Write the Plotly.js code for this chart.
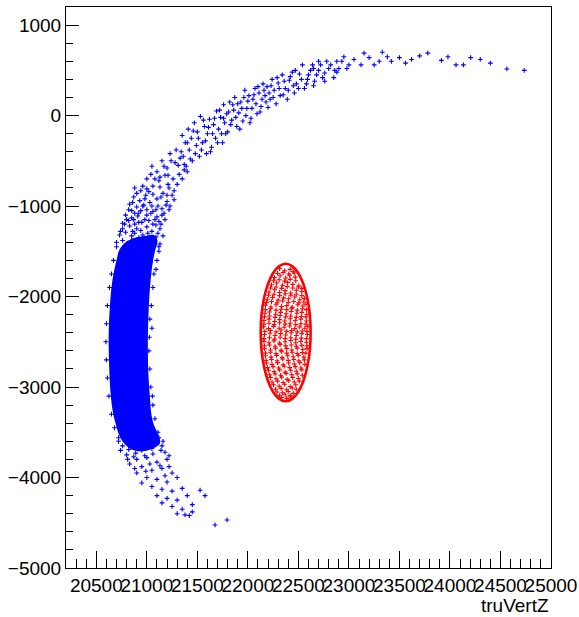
<!DOCTYPE html>
<html>
<head>
<meta charset="utf-8">
<script src="https://cdn.plot.ly/plotly-3.0.1.min.js"></script>
<style>html,body{margin:0;padding:0;background:#fff;}#chart{width:579px;height:617px;}</style>
</head>
<body>
<div id="chart"></div>
<script>
// ---- Data ----
var xTickVals = [20500, 21000, 21500, 22000, 22500, 23000, 23500, 24000, 24500, 25000];
var yTickVals = [-5000, -4000, -3000, -2000, -1000, 0, 1000];
var xAxisTitle = "truVertZ";

// dense (saturated) core of the blue band, outline points [z, y]
var blueCore = [
  [21080,-1500],[21105,-1380],[21070,-1320],[20980,-1330],[20880,-1350],[20790,-1400],[20730,-1480],
  [20700,-1600],[20670,-1750],[20650,-1900],[20635,-2100],[20625,-2300],[20622,-2550],
  [20628,-2800],[20640,-3050],[20660,-3250],[20690,-3400],[20730,-3540],[20790,-3640],[20870,-3700],
  [20960,-3710],[21060,-3680],[21130,-3620],[21110,-3520],[21070,-3420],[21045,-3300],[21030,-3100],[21015,-2850],
  [21010,-2600],[21012,-2350],[21020,-2100],[21035,-1850],[21055,-1650],[21080,-1500]
];

// blue scattered points: top tail
var blueTop = [
  [24735,500],[24563,515],[24205,640],[24133,560],[24060,560],[23915,610],[23780,690],[23620,620],
  [23500,640],[23420,600],[23330,700],[23300,600],[23200,640],[23120,560],[23050,620],[22980,520],
  [22930,600],[22880,480],[22820,560],[22760,470],[22700,600],[22650,520],
  [24400,580],[24300,620],[23980,650],[23700,660],[23560,580],[23380,650],[23250,560],[23150,690],
  [23000,560],[22950,650],[22900,520]
];
// blue: upper arc
var blueUpper = [
  [22880,600],[22850,420],[22800,520],[22760,380],[22720,560],[22680,450],[22650,330],[22620,500],
  [22590,400],[22560,300],[22540,560],[22510,460],[22480,350],[22460,250],[22440,480],[22410,390],
  [22390,180],[22370,300],[22340,450],[22320,220],[22300,360],[22280,130],[22260,280],[22240,400],
  [22220,180],[22200,90],[22190,320],[22170,220],
  [22860,500],[22780,600],[22740,420],[22700,500],[22660,380],[22640,560],[22600,450],[22580,350],
  [22530,400],[22500,300],[22470,500],[22450,330],[22420,430],[22400,280],[22360,380],[22350,230],
  [22310,300],[22290,420],[22250,200],[22230,330],[22210,250],[22180,150],
  [22150,350],[22130,100],[22110,250],[22090,20],[22070,300],[22050,180],[22030,-30],[22010,220],
  [21990,80],[21970,280],[21950,-60],[21930,150],[21910,30],[21890,-120],[21870,200],[21860,60],
  [21840,-50],[21820,150],[21800,-180],[21790,20],[21770,-80],[21760,120],
  [22160,280],[22140,180],[22120,40],[22100,320],[22080,130],[22060,230],[22040,80],[22020,-80],
  [22000,160],[21980,0],[21960,200],[21940,80],[21920,-150],[21900,130],[21880,-20],[21850,120],
  [21830,-100],[21810,40],[21780,-200],[21760,-30],
  [21750,-300],[21730,-20],[21710,-150],[21690,50],[21680,-250],[21660,-100],[21640,-350],[21620,-40],
  [21600,-200],[21590,-420],[21570,-120],[21550,-300],[21530,-10],[21520,-450],[21500,-180],[21490,-330],
  [21470,-80],[21450,-500],[21440,-250],[21420,-380],[21410,-150],[21390,-560],[21380,-300],[21360,-450],
  [21350,-220],
  [21740,-200],[21720,60],[21700,-300],[21670,-30],[21650,-200],[21630,-400],[21610,-130],[21580,-280],
  [21560,-50],[21540,-380],[21510,-250],[21480,-420],[21460,-170],[21430,-480],[21400,-300],[21370,-600],
  [21340,-400],[21310,-550],[21290,-380],[21240,-500],[21210,-660],[21170,-560],[21130,-680],[21080,-700],
  [21040,-650]
];
// blue: shoulder of the band
var blueShoulder = [
  [21330,-470],[21280,-520],[21230,-420],[21400,-620],[21200,-580],[21150,-500],[21320,-650],[21260,-700],
  [21100,-620],[21050,-560],[21370,-540],[21180,-660],[21120,-720],[21300,-760],[21220,-800],[21000,-700],
  [21060,-780],[21350,-700],[21160,-860],[21250,-880],[21020,-840],[20960,-780],[21100,-920],[21200,-950],
  [20900,-860],[20980,-920],[21050,-1000],[21150,-1030],[20860,-960],[20940,-1050],[21230,-1000],[21000,-1100],
  [21100,-1120],[20880,-1080],[20820,-1040],[21180,-1150],[20950,-1180],[21060,-1200],[20800,-1150],[21130,-1250],
  [20900,-1250],[20760,-1250],[21010,-1300],[21160,-1330],[20850,-1330],
  [20880,-800],[20940,-830],[21000,-810],[21270,-830],[21210,-760],[21130,-790],
  [20870,-900],[20930,-940],[20990,-880],[21060,-870],[21140,-900],[21200,-880],[21270,-930],
  [20830,-980],[20900,-1010],[20970,-990],[21030,-960],[21090,-1040],[21170,-1080],[21220,-1040],
  [20790,-1100],[20850,-1130],[20910,-1110],[20980,-1150],[21040,-1080],[21120,-1170],[21150,-1100],
  [20760,-1190],[20830,-1220],[20880,-1200],[20940,-1270],[21000,-1230],[21050,-1280],[21090,-1210],[21140,-1200],
  [20730,-1320],[20790,-1290],[20860,-1280],[20920,-1350],[20980,-1380],[21060,-1360],[21110,-1300],
  [20700,-1400],[20800,-1420],[21130,-1420],
  [20780,-1200],[20820,-1160],[20870,-1150],[20920,-1180],[21020,-1160],[21080,-1150],[20740,-1280],[20880,-1300],
  [20960,-1320],[21030,-1340],[21090,-1340],[20760,-1380],[20850,-1380],[20900,-1420],[21020,-1420],[21080,-1430],
  [20850,-1050],[20920,-1080],[21000,-1040],[21110,-1000],[20960,-1000],[21060,-1060],[21190,-990],[20780,-1470],
  [20830,-1480],[21060,-1480],[21120,-1500],[20740,-1520]
];
// blue: fuzzy edges of the dense core
var blueEdges = [
  [20700,-1450],[20670,-1600],[20650,-1750],[20630,-1900],[20610,-2100],[20600,-2300],[20595,-2500],
  [20600,-2700],[20610,-2900],[20625,-3100],[20650,-3300],[20680,-3450],[20720,-3600],
  [21120,-1450],[21100,-1600],[21070,-1750],[21060,-1900],[21045,-2100],[21030,-2250],[21025,-2450],
  [21020,-2600],[21030,-2800],[21040,-3000],[21060,-3200],[21080,-3350],[21110,-3500],[21150,-3650],
  [21090,-1700],[21050,-2350],[21055,-3100]
];
// blue: lower tail
var blueLower = [
  [20720,-3560],[20800,-3580],[20880,-3560],[20960,-3600],[21040,-3580],[21120,-3560],[21160,-3600],
  [20740,-3700],[20820,-3690],[20890,-3730],[20980,-3760],[21060,-3740],[21140,-3700],[21220,-3760],
  [20810,-3800],[20870,-3770],[21030,-3850],[21130,-3870],[21220,-3880],[20880,-3900],[20990,-3930],[21180,-3980],
  [20760,-3650],[20850,-3620],[20950,-3700],[21050,-3680],[21180,-3720],[20800,-3750],[20900,-3800],[21000,-3780],
  [21100,-3830],[21200,-3800],[20830,-3850],[20950,-3880],[21050,-3920],[21150,-3900],[21250,-3950],[20900,-3950],
  [21000,-4000],[21100,-4020],[21200,-4050],[21300,-4000],[20950,-4060],[21050,-4100],[21150,-4130],[21250,-4150],
  [21350,-4120],[21100,-4200],[21200,-4230],[21300,-4250],[21400,-4200],[21150,-4280],[21250,-4320],[21350,-4350],
  [21450,-4300],[21527,-4140],[21576,-4200],[21300,-4400],[21420,-4420],[21675,-4524],[21794,-4469],[21378,-4413],
  [21450,-4380]
];

// red ellipse: rim points [z, y]
var redRim = [
  [22374,-1637],[22438,-1663],[22498,-1739],[22549,-1860],[22588,-2017],[22613,-2200],[22621,-2397],
  [22613,-2594],[22588,-2777],[22549,-2934],[22498,-3055],[22438,-3131],[22374,-3157],[22310,-3131],
  [22250,-3055],[22199,-2934],[22160,-2777],[22135,-2594],[22127,-2397],[22135,-2200],[22160,-2017],
  [22199,-1860],[22250,-1739],[22310,-1663],[22374,-1637]
];
// red interior points [z, y]
var redInside = [
  [22314,-1690],[22364,-1715],[22419,-1700],[22449,-1725],
  [22264,-1790],[22319,-1770],[22374,-1795],[22414,-1765],[22469,-1785],
  [22234,-1870],[22284,-1850],[22344,-1875],[22394,-1845],[22444,-1865],[22504,-1880],
  [22209,-1950],[22264,-1925],[22314,-1955],[22369,-1935],[22424,-1960],[22479,-1930],[22534,-1945],
  [22194,-2030],[22244,-2010],[22299,-2040],[22354,-2015],[22404,-2025],[22464,-2005],[22514,-2035],[22559,-2020],
  [22174,-2095],[22229,-2115],[22279,-2090],[22334,-2110],[22384,-2100],[22439,-2120],[22494,-2090],[22544,-2105],[22574,-2085],
  [22169,-2185],[22214,-2170],[22274,-2195],[22324,-2175],[22379,-2190],[22429,-2165],[22484,-2185],[22534,-2175],[22584,-2195],
  [22159,-2265],[22209,-2250],[22264,-2275],[22314,-2255],[22364,-2270],[22419,-2245],[22469,-2265],[22524,-2250],[22579,-2270],
  [22154,-2335],[22204,-2355],[22254,-2330],[22309,-2350],[22359,-2340],[22414,-2325],[22464,-2355],[22514,-2335],[22564,-2350],[22594,-2330],
  [22164,-2420],[22219,-2405],[22269,-2430],[22324,-2410],[22374,-2425],[22429,-2400],[22479,-2430],[22534,-2410],[22589,-2420],
  [22159,-2495],[22209,-2510],[22259,-2490],[22314,-2515],[22369,-2500],[22424,-2485],[22474,-2510],[22524,-2495],[22579,-2505],
  [22164,-2575],[22224,-2590],[22274,-2570],[22329,-2595],[22384,-2575],[22434,-2590],[22489,-2570],[22544,-2585],[22584,-2575],
  [22174,-2655],[22229,-2670],[22284,-2650],[22339,-2675],[22394,-2655],[22449,-2665],[22499,-2650],[22554,-2670],
  [22184,-2735],[22239,-2750],[22294,-2730],[22349,-2755],[22404,-2735],[22459,-2745],[22514,-2730],[22564,-2750],
  [22204,-2815],[22259,-2830],[22314,-2810],[22369,-2835],[22424,-2815],[22479,-2825],[22534,-2810],
  [22224,-2895],[22279,-2910],[22334,-2890],[22389,-2915],[22444,-2895],[22499,-2905],
  [22254,-2975],[22309,-2990],[22364,-2970],[22419,-2995],[22474,-2975],
  [22289,-3055],[22344,-3065],[22399,-3050],[22449,-3070],
  [22334,-3115],[22384,-3125],[22424,-3110],
  [22294,-1745],[22349,-1735],[22404,-1750],[22459,-1740],
  [22254,-1825],[22309,-1815],[22364,-1830],[22419,-1810],[22474,-1825],
  [22224,-1905],[22279,-1895],[22334,-1910],[22389,-1890],[22444,-1905],[22499,-1895],[22534,-1910],
  [22204,-1985],[22259,-1975],[22314,-1990],[22369,-1970],[22424,-1985],[22479,-1975],[22534,-1990],
  [22184,-2065],[22234,-2055],[22289,-2070],[22344,-2050],[22399,-2065],[22454,-2055],[22504,-2070],[22554,-2060],
  [22174,-2145],[22224,-2135],[22279,-2150],[22329,-2140],[22384,-2145],[22434,-2130],[22489,-2150],[22539,-2135],[22579,-2145],
  [22164,-2225],[22214,-2215],[22269,-2230],[22319,-2210],[22374,-2225],[22424,-2215],[22479,-2230],[22529,-2220],[22574,-2225],
  [22159,-2305],[22209,-2295],[22259,-2310],[22314,-2290],[22369,-2305],[22419,-2295],[22474,-2310],[22524,-2300],[22574,-2305],
  [22169,-2385],[22224,-2375],[22279,-2390],[22329,-2370],[22384,-2385],[22434,-2375],[22489,-2390],[22539,-2380],[22584,-2385],
  [22159,-2465],[22214,-2455],[22264,-2470],[22319,-2450],[22369,-2465],[22424,-2455],[22474,-2470],[22529,-2460],[22579,-2465],
  [22164,-2545],[22214,-2535],[22269,-2550],[22319,-2530],[22374,-2545],[22429,-2535],[22479,-2550],[22534,-2540],[22584,-2545],
  [22174,-2625],[22224,-2615],[22279,-2630],[22334,-2610],[22384,-2625],[22439,-2615],[22489,-2630],[22539,-2620],[22574,-2625],
  [22179,-2705],[22234,-2695],[22289,-2710],[22344,-2690],[22399,-2705],[22454,-2695],[22504,-2710],[22559,-2700],
  [22194,-2785],[22249,-2775],[22304,-2790],[22359,-2770],[22414,-2785],[22469,-2775],[22524,-2790],
  [22214,-2865],[22269,-2855],[22324,-2870],[22379,-2850],[22434,-2865],[22489,-2855],[22539,-2870],
  [22239,-2945],[22294,-2935],[22349,-2950],[22404,-2930],[22459,-2945],[22509,-2935],
  [22274,-3025],[22329,-3015],[22384,-3030],[22439,-3010],[22479,-3025],
  [22314,-3095],[22369,-3085],[22419,-3095]
];

// ---- Drawing ----
var BLUE = "#0000ff", RED = "#ff0000";
function xs(a){ return a.map(function(p){ return p[0]; }); }
function ys(a){ return a.map(function(p){ return p[1]; }); }
var bluePts = [].concat(blueTop, blueUpper, blueShoulder, blueEdges, blueLower);
var markerStyle = function(c){ return {symbol: "cross-thin", size: 3.4, color: c, line: {color: c, width: 1.1}}; };

var traces = [
  {type: "scatter", mode: "lines", x: xs(blueCore), y: ys(blueCore), fill: "toself",
   fillcolor: BLUE, line: {width: 0, color: BLUE, shape: "spline"}, hoverinfo: "skip", showlegend: false},
  {type: "scatter", mode: "markers", x: xs(bluePts), y: ys(bluePts),
   marker: markerStyle(BLUE), hoverinfo: "skip", showlegend: false},
  {type: "scatter", mode: "lines", x: xs(redRim), y: ys(redRim),
   line: {color: RED, width: 2.6, shape: "spline"}, hoverinfo: "skip", showlegend: false},
  {type: "scatter", mode: "markers", x: xs(redInside), y: ys(redInside),
   marker: markerStyle(RED), hoverinfo: "skip", showlegend: false}
];

var FONT = "Liberation Sans, Arial, Helvetica, sans-serif";
var layout = {
  width: 579, height: 617,
  margin: {l: 66, r: 28, t: 7, b: 49, pad: 0},
  paper_bgcolor: "#ffffff", plot_bgcolor: "#ffffff",
  showlegend: false,
  font: {family: FONT, size: 19, color: "#000"},
  xaxis: {
    range: [20200, 25000], tickmode: "array", tickvals: xTickVals, ticktext: xTickVals.map(String),
    tickangle: 0, ticks: "inside", ticklen: 17, tickwidth: 1, tickcolor: "#000",
    minor: {dtick: 100, tick0: 20000, ticks: "inside", ticklen: 9, tickcolor: "#000", tickwidth: 1, showgrid: false},
    showline: true, linecolor: "#000", linewidth: 1, mirror: true,
    showgrid: false, zeroline: false, tickfont: {family: FONT, size: 19, color: "#000"}
  },
  yaxis: {
    range: [-5000, 1200], tickmode: "array", tickvals: yTickVals,
    ticks: "inside", ticklen: 13, tickwidth: 1, tickcolor: "#000",
    minor: {dtick: 200, tick0: 0, ticks: "inside", ticklen: 7, tickcolor: "#000", tickwidth: 1, showgrid: false},
    showline: true, linecolor: "#000", linewidth: 1, mirror: true,
    showgrid: false, zeroline: false, tickfont: {family: FONT, size: 19, color: "#000"}
  },
  annotations: [{
    text: xAxisTitle, xref: "paper", yref: "paper", x: 1, y: -0.066,
    xanchor: "right", yanchor: "middle", showarrow: false,
    font: {family: FONT, size: 19, color: "#000"}
  }]
};

Plotly.newPlot("chart", traces, layout, {staticPlot: true, displayModeBar: false});
</script>
</body>
</html>
